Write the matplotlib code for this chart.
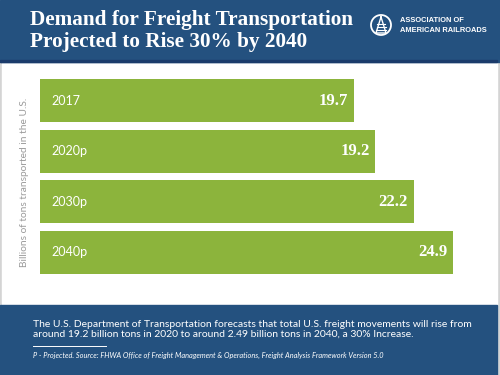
import matplotlib.pyplot as plt
from matplotlib.patches import Rectangle, Circle

# Données (milliards de tonnes)
years = ["2017", "2020p", "2030p", "2040p"]
values = [19.7, 19.2, 22.2, 24.9]
# longueurs des barres telles que dessinées dans l'original (pas tout à fait proportionnelles)
bar_len = [18.9, 20.2, 22.5, 24.9]

title = "Demand for Freight Transportation\nProjected to Rise 30% by 2040"
ylabel = "Billions of tons transported in the U.S."
note = ("The U.S. Department of Transportation forecasts that total U.S. freight movements will rise from\n"
        "around 19.2 billion tons in 2020 to around 2.49 billion tons in 2040, a 30% Increase.")
source = ("P - Projected. Source: FHWA Office of Freight Management & Operations, "
          "Freight Analysis Framework Version 5.0")

blue = "#24517f"
green = "#8cb43c"

fig = plt.figure(figsize=(5, 3.75), dpi=100, facecolor="#d4d4d4")

# fond en coordonnées pixels
bg = fig.add_axes([0, 0, 1, 1])
bg.set_xlim(0, 500)
bg.set_ylim(375, 0)
bg.axis("off")
bg.add_patch(Rectangle((1.5, 0), 495, 375, color="white"))
bg.add_patch(Rectangle((0, 0), 500, 62, color=blue))
bg.add_patch(Rectangle((0, 59.5), 497, 2.5, color="#1b3b6b"))
bg.add_patch(Rectangle((0, 305), 497, 70, color=blue))

bg.text(30, 31, title, color="white", fontsize=15.3, fontweight="bold",
        family="Liberation Serif", va="center", ha="left", linespacing=1.15)

# logo
bg.add_patch(Circle((381, 25), 10, fill=False, ec="white", lw=1.3))
bg.plot([381, 376, 386, 381], [17, 33, 33, 17], color="white", lw=1)
for yy in [24, 27, 30]:
    bg.plot([379 - (yy - 17) * 0.25, 383 + (yy - 17) * 0.25], [yy, yy], color="white", lw=0.8)
bg.text(400, 21, "ASSOCIATION OF", color="white", fontsize=5.4, fontweight="bold",
        family="Liberation Sans", va="center")
bg.text(400, 30, "AMERICAN RAILROADS", color="white", fontsize=5.4, fontweight="bold",
        family="Liberation Sans", va="center")

bg.text(25, 182, ylabel, rotation=90, color="#9a9a9a", fontsize=7.3,
        family="Lato", va="center", ha="center")

bg.text(33, 329, note, color="white", fontsize=7.5, family="Lato", va="center",
        linespacing=1.1)
bg.plot([33, 106], [346, 346], color="white", lw=0.7)
bg.text(33, 355, source, color="white", fontsize=5.3, family="Lato",
        style="italic", va="center")

# graphique
ax = fig.add_axes([40 / 500, 1 - 277.5 / 375, 440 / 500, 202 / 375])
ax.set_facecolor("none")
pos = range(len(years))
ax.barh(pos, bar_len, height=0.85, color=green)
ax.set_xlim(0, 26.5)
ax.set_ylim(3.5, -0.5)
ax.axis("off")

for i, (yr, v, l) in enumerate(zip(years, values, bar_len)):
    ax.annotate(yr, (0, i), xytext=(8, 0), textcoords="offset points",
                color="white", fontsize=9, family="Lato", va="center", ha="left")
    ax.annotate(f"{v}", (l, i), xytext=(-4, 0), textcoords="offset points",
                color="white", fontsize=12, fontweight="bold",
                family="Liberation Serif", va="center", ha="right")

plt.savefig("out.png", dpi=100, facecolor=fig.get_facecolor())
